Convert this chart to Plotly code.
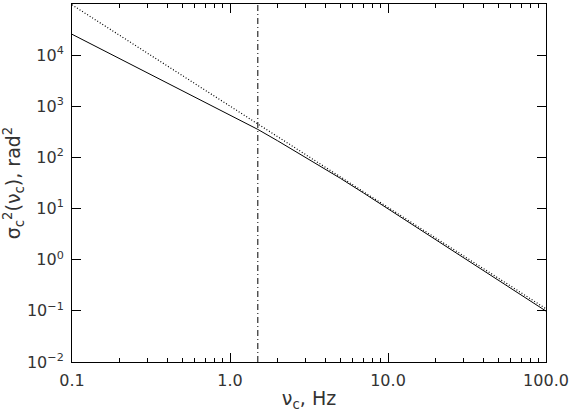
import plotly.graph_objects as go

# Frequencies (Hz)
nu = [0.1, 0.2, 0.3, 0.5, 1.0, 1.5, 2.0, 3.0, 5.0, 7.0, 10.0, 20.0, 30.0, 50.0, 100.0]

# Solid curve: sigma_c^2(nu_c), rad^2
sigma2 = [25600, 8620, 4560, 2050, 689, 353, 212, 101, 39, 20.2, 9.9, 2.48, 1.10, 0.396, 0.099]

# Dotted reference curve
sigma2_ref = [96400, 24400, 10900, 3970, 1010, 451, 255, 114, 41.5, 21.3, 10.5, 2.67, 1.19, 0.434, 0.11]

# Vertical dash-dot marker
nu_cut = 1.5

x_range = [0.1, 100.0]
y_range = [1e-2, 1e5]

x_ticks = [0.1, 1.0, 10.0, 100.0]
x_labels = ['0.1', '1.0', '10.0', '100.0']
x_minor = [0.2, 0.3, 0.4, 0.5, 0.6, 0.7, 0.8, 0.9,
           2, 3, 4, 5, 6, 7, 8, 9,
           20, 30, 40, 50, 60, 70, 80, 90]
y_ticks = [1e-2, 1e-1, 1e0, 1e1, 1e2, 1e3, 1e4, 1e5]
y_labels = ['10<sup>\u22122</sup>', '10<sup>\u22121</sup>', '10<sup>0</sup>', '10<sup>1</sup>',
            '10<sup>2</sup>', '10<sup>3</sup>', '10<sup>4</sup>', '10<sup>5</sup>']

fig = go.Figure()

fig.add_trace(go.Scatter(x=nu, y=sigma2_ref, mode='lines',
                         line=dict(color='black', width=1.2, dash='1px,2px')))
fig.add_trace(go.Scatter(x=nu, y=sigma2, mode='lines',
                         line=dict(color='black', width=1)))
fig.add_trace(go.Scatter(x=[nu_cut, nu_cut], y=y_range, mode='lines',
                         line=dict(color='black', width=1, dash='6px,3px,1px,3px')))

font = dict(family='DejaVu Sans', size=16, color='#333')

fig.update_layout(width=569, height=412, showlegend=False,
                  paper_bgcolor='white', plot_bgcolor='white',
                  margin=dict(l=72, r=23, t=4, b=50), font=font)

fig.update_xaxes(type='log', range=[-1, 2], showgrid=False, zeroline=False, automargin=False,
                 showline=True, linecolor='black', linewidth=1, mirror='ticks',
                 ticks='inside', ticklen=9, tickcolor='black',
                 tickvals=x_ticks, ticktext=x_labels, ticklabelstandoff=4,
                 minor=dict(ticks='inside', ticklen=4, tickcolor='black', tickvals=x_minor, showgrid=False),
                 title=dict(text='\u03bd<sub>c</sub>, Hz', standoff=2))
fig.update_yaxes(type='log', range=[-2, 5], showgrid=False, zeroline=False, automargin=False,
                 showline=True, linecolor='black', linewidth=1, mirror='ticks',
                 ticks='inside', ticklen=9, tickcolor='black',
                 tickvals=y_ticks, ticktext=y_labels, ticklabelstandoff=4,
                 title=dict(text='\u03c3<sub>c</sub><sup>2</sup>(\u03bd<sub>c</sub>), rad<sup>2</sup>', standoff=4))

# drop the default page margin so the figure sits at the window's corner
fig.write_html("out.html", config={'displayModeBar': False},
               post_script="document.body.style.margin='0';")
